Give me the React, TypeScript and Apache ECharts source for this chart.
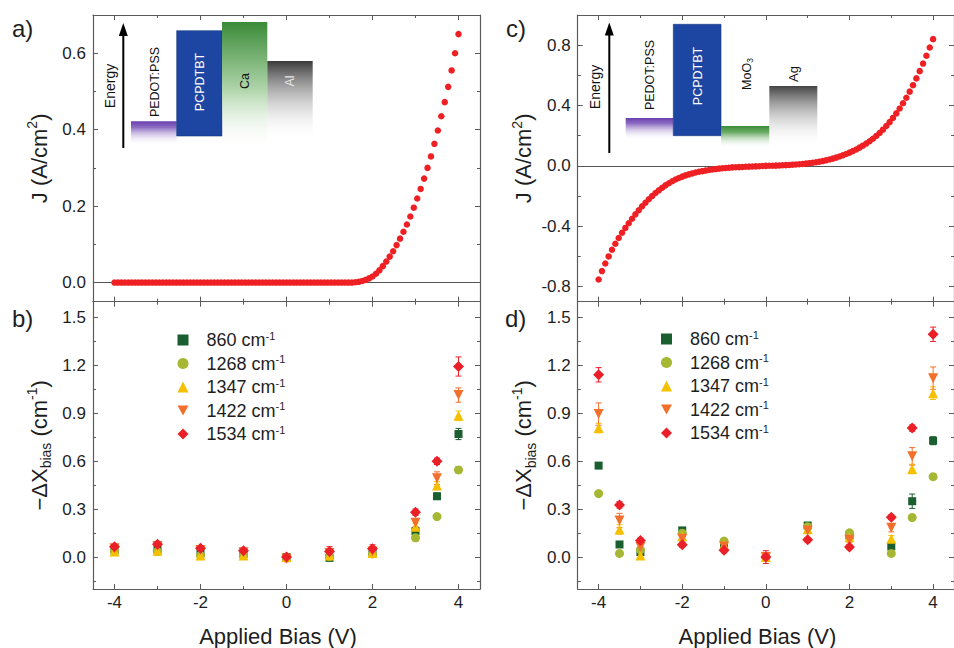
import React, { useEffect, useRef } from "react";
import * as echarts from "echarts";

const FONT = "'Liberation Sans', Arial, Helvetica, sans-serif";
const AXC = "#5a5a5a";
const TXT = "#1e1e1e";

// ---- tick values ----
const X_MAJOR = [-4, -2, 0, 2, 4];
const X_MINOR = [-3, -1, 1, 3];
const YA_MAJOR = [0, 0.2, 0.4, 0.6];
const YA_MINOR = [0.1, 0.3, 0.5];
const YC_MAJOR = [-0.8, -0.4, 0, 0.4, 0.8];
const YC_MINOR = [-0.6, -0.2, 0.2, 0.6];
const YB_MAJOR = [0, 0.3, 0.6, 0.9, 1.2, 1.5];
const YB_MINOR = [-0.15, 0.15, 0.45, 0.75, 1.05, 1.35];

// ---- J-V sweep (V) ----
const BIAS_JV = [
  -4, -3.92, -3.84, -3.76, -3.68, -3.6, -3.52, -3.44, -3.36, -3.28,
  -3.2, -3.12, -3.04, -2.96, -2.88, -2.8, -2.72, -2.64, -2.56, -2.48,
  -2.4, -2.32, -2.24, -2.16, -2.08, -2, -1.92, -1.84, -1.76, -1.68,
  -1.6, -1.52, -1.44, -1.36, -1.28, -1.2, -1.12, -1.04, -0.96, -0.88,
  -0.8, -0.72, -0.64, -0.56, -0.48, -0.4, -0.32, -0.24, -0.16, -0.08,
  0,
  0.08, 0.16, 0.24, 0.32, 0.4, 0.48, 0.56, 0.64, 0.72, 0.8,
  0.88, 0.96, 1.04, 1.12, 1.2, 1.28, 1.36, 1.44, 1.52, 1.6,
  1.68, 1.76, 1.84, 1.92, 2, 2.08, 2.16, 2.24, 2.32, 2.4,
  2.48, 2.56, 2.64, 2.72, 2.8, 2.88, 2.96, 3.04, 3.12, 3.2,
  3.28, 3.36, 3.44, 3.52, 3.6, 3.68, 3.76, 3.84, 3.92, 4,
];

// panel a) J (A/cm2), Ca/Al device
const J_A = [
  0, 0, 0, 0, 0, 0, 0, 0, 0, 0,
  0, 0, 0, 0, 0, 0, 0, 0, 0, 0,
  0, 0, 0, 0, 0, 0, 0, 0, 0, 0,
  0, 0, 0, 0, 0, 0, 0, 0, 0, 0,
  0, 0, 0, 0, 0, 0, 0, 0, 0, 0,
  0,
  0, 0, 0, 0, 0, 0, 0, 0, 0, 0,
  0, 0, 0, 0, 0, 0, 0, 0, 0, 0.001,
  0.002, 0.004, 0.007, 0.011, 0.016, 0.023, 0.032, 0.043, 0.055, 0.068,
  0.082, 0.098, 0.115, 0.133, 0.152, 0.173, 0.196, 0.22, 0.245, 0.272,
  0.3, 0.33, 0.363, 0.398, 0.435, 0.472, 0.512, 0.555, 0.6, 0.65,
];

// panel c) J (A/cm2), MoO3/Ag device
const J_C = [
  -0.753, -0.697, -0.647, -0.6, -0.556, -0.516, -0.478, -0.443, -0.411, -0.38,
  -0.35, -0.321, -0.294, -0.268, -0.244, -0.221, -0.2, -0.18, -0.162, -0.145,
  -0.129, -0.115, -0.102, -0.09, -0.08, -0.071, -0.063, -0.056, -0.05, -0.044,
  -0.039, -0.035, -0.031, -0.027, -0.024, -0.021, -0.018, -0.016, -0.014, -0.012,
  -0.01, -0.009, -0.008, -0.007, -0.006, -0.005, -0.004, -0.003, -0.002, -0.001,
  0,
  0.001, 0.001, 0.002, 0.003, 0.004, 0.005, 0.006, 0.008, 0.009, 0.011,
  0.013, 0.015, 0.018, 0.021, 0.024, 0.028, 0.032, 0.037, 0.042, 0.048,
  0.055, 0.062, 0.07, 0.079, 0.088, 0.098, 0.109, 0.121, 0.134, 0.148,
  0.163, 0.18, 0.198, 0.218, 0.24, 0.264, 0.29, 0.318, 0.348, 0.38,
  0.415, 0.452, 0.492, 0.535, 0.58, 0.628, 0.678, 0.73, 0.785, 0.84,
];

// ---- panel b) -dX_bias (cm-1) ----
const BIAS_B = [-4, -3, -2, -1, 0, 1, 2, 3, 3.5, 4];
const B_860 = [0.045, 0.05, 0.025, 0.02, 0.0, -0.005, 0.03, 0.163, 0.381, 0.771];
const B_1268 = [0.035, 0.035, 0.01, 0.01, 0.0, 0.005, 0.02, 0.121, 0.254, 0.546];
const B_1347 = [0.035, 0.04, 0.01, 0.01, 0.0, 0.01, 0.025, 0.19, 0.448, 0.885];
const B_1422 = [0.055, 0.07, 0.045, 0.03, -0.01, 0.025, 0.035, 0.215, 0.494, 1.015];
const B_1534 = [0.065, 0.08, 0.055, 0.04, 0.0, 0.035, 0.052, 0.281, 0.6, 1.194];
const EB_860 = [0.01, 0.01, 0.01, 0.01, 0.015, 0.01, 0.01, 0.02, 0.02, 0.035];
const EB_1268 = [0.01, 0.01, 0.01, 0.01, 0.01, 0.01, 0.01, 0.02, 0.015, 0.02];
const EB_1347 = [0.01, 0.01, 0.01, 0.01, 0.015, 0.01, 0.015, 0.02, 0.025, 0.03];
const EB_1422 = [0.015, 0.015, 0.015, 0.015, 0.02, 0.02, 0.02, 0.025, 0.04, 0.045];
const EB_1534 = [0.015, 0.015, 0.015, 0.015, 0.02, 0.03, 0.025, 0.02, 0.02, 0.06];

// ---- panel d) -dX_bias (cm-1) ----
const BIAS_D = [-4, -3.5, -3, -2, -1, 0, 1, 2, 3, 3.5, 4];
const D_860 = [0.573, 0.079, 0.031, 0.167, 0.079, 0.0, 0.198, 0.135, 0.067, 0.35, 0.729];
const D_1268 = [0.398, 0.023, 0.046, 0.15, 0.1, 0.0, 0.19, 0.152, 0.023, 0.248, 0.504];
const D_1347 = [0.808, 0.173, 0.01, 0.13, 0.077, 0.0, 0.175, 0.125, 0.115, 0.552, 1.027];
const D_1422 = [0.896, 0.229, 0.063, 0.115, 0.067, 0.0, 0.167, 0.108, 0.183, 0.631, 1.121];
const D_1534 = [1.142, 0.327, 0.104, 0.077, 0.042, 0.0, 0.108, 0.063, 0.25, 0.808, 1.396];
const ED_860 = [0.015, 0.01, 0.01, 0.01, 0.01, 0.015, 0.015, 0.01, 0.015, 0.045, 0.025];
const ED_1268 = [0.01, 0.01, 0.01, 0.01, 0.01, 0.015, 0.01, 0.01, 0.01, 0.015, 0.015];
const ED_1347 = [0.03, 0.03, 0.02, 0.015, 0.015, 0.02, 0.015, 0.015, 0.02, 0.03, 0.04];
const ED_1422 = [0.07, 0.045, 0.02, 0.02, 0.015, 0.02, 0.02, 0.015, 0.025, 0.055, 0.07];
const ED_1534 = [0.045, 0.02, 0.015, 0.015, 0.015, 0.04, 0.015, 0.015, 0.015, 0.02, 0.045];

const WAVENUMBERS = ["860", "1268", "1347", "1422", "1534"];
const COLORS = ["#1b5e2f", "#a5b733", "#f5c000", "#f2702c", "#ea1f27"];
const SYMBOLS = ["rect", "circle", "triangle", "path://M0,0L10,0L5,9Z", "diamond"];
const SIZES = [8, 9, 10, 10, 11];
const B_SETS = [B_860, B_1268, B_1347, B_1422, B_1534];
const EB_SETS = [EB_860, EB_1268, EB_1347, EB_1422, EB_1534];
const D_SETS = [D_860, D_1268, D_1347, D_1422, D_1534];
const ED_SETS = [ED_860, ED_1268, ED_1347, ED_1422, ED_1534];

const GRIDS = [
  { left: 93, top: 15, width: 387, height: 286.7 },
  { left: 93, top: 301.7, width: 387, height: 287.3 },
  { left: 577.7, top: 15, width: 387, height: 286.7 },
  { left: 577.7, top: 301.7, width: 387, height: 287.3 },
];

const tickStyle = { color: AXC, width: 1 };

function xAxesFor(g: number, labels: boolean) {
  const base = {
    type: "value",
    gridIndex: g,
    min: -4.5,
    max: 4.5,
    splitLine: { show: false },
    axisLine: { show: true, onZero: false, lineStyle: { color: AXC, width: 1.2 } },
  };
  const main: any = {
    ...base,
    position: "bottom",
    axisTick: { show: true, inside: true, length: 5, customValues: X_MAJOR, lineStyle: tickStyle },
    axisLabel: {
      show: labels,
      customValues: X_MAJOR,
      formatter: (v: number) => String(v),
      fontSize: 17,
      color: TXT,
      margin: 5,
      fontFamily: FONT,
    },
  };
  if (labels) {
    main.name = "Applied Bias (V)";
    main.nameLocation = "middle";
    main.nameGap = 36;
    main.nameTextStyle = { fontSize: 22, color: TXT, fontFamily: FONT, padding: [0, 17, 0, 0] };
  }
  return [
    main,
    {
      ...base,
      position: "top",
      axisTick: { show: true, inside: true, length: 5, customValues: X_MAJOR, lineStyle: tickStyle },
      axisLabel: { show: false },
    },
    {
      ...base,
      position: "bottom",
      axisLine: { show: false, onZero: false },
      axisTick: { show: true, inside: true, length: 3, customValues: X_MINOR, lineStyle: tickStyle },
      axisLabel: { show: false },
    },
    {
      ...base,
      position: "top",
      axisLine: { show: false, onZero: false },
      axisTick: { show: true, inside: true, length: 3, customValues: X_MINOR, lineStyle: tickStyle },
      axisLabel: { show: false },
    },
  ];
}

const J_NAME = "{n|J (A/cm}{sup|2}{n|)}";
const DX_NAME = "{n|\u2212\u0394X}{sub|bias}{n| (cm}{sup|-1}{n|)}";

function yAxesFor(g: number, min: number, max: number, major: number[], minor: number[], name: string) {
  const base = {
    type: "value",
    gridIndex: g,
    min,
    max,
    splitLine: { show: false },
    axisLine: { show: true, onZero: false, lineStyle: { color: AXC, width: 1.2 } },
  };
  return [
    {
      ...base,
      position: "left",
      axisTick: { show: true, inside: true, length: 5, customValues: major, lineStyle: tickStyle },
      axisLabel: {
        customValues: major,
        formatter: (v: number) => v.toFixed(1),
        fontSize: 17,
        color: TXT,
        margin: 7,
        fontFamily: FONT,
      },
      name,
      nameLocation: "middle",
      nameRotate: 90,
      nameGap: 40,
      nameTextStyle: {
        color: TXT,
        fontFamily: FONT,
        fontSize: 22,
        rich: {
          n: { fontSize: 22, lineHeight: 28, fontFamily: FONT, color: TXT },
          sup: { fontSize: 14, lineHeight: 14, verticalAlign: "top", fontFamily: FONT, color: TXT },
          sub: { fontSize: 14, lineHeight: 14, verticalAlign: "bottom", fontFamily: FONT, color: TXT },
        },
      },
    },
    {
      ...base,
      position: "right",
      axisTick: { show: true, inside: true, length: 5, customValues: major, lineStyle: tickStyle },
      axisLabel: { show: false },
    },
    {
      ...base,
      position: "left",
      axisLine: { show: false, onZero: false },
      axisTick: { show: true, inside: true, length: 3, customValues: minor, lineStyle: tickStyle },
      axisLabel: { show: false },
    },
    {
      ...base,
      position: "right",
      axisLine: { show: false, onZero: false },
      axisTick: { show: true, inside: true, length: 3, customValues: minor, lineStyle: tickStyle },
      axisLabel: { show: false },
    },
  ];
}

function errSeries(name: string, xs: number[], ys: number[], es: number[], color: string, ai: number) {
  return {
    type: "custom",
    name: name + " err",
    xAxisIndex: ai,
    yAxisIndex: ai,
    silent: true,
    z: 1,
    data: xs.map((x, i) => [x, ys[i] - es[i], ys[i] + es[i]]),
    encode: { x: 0, y: [1, 2] },
    renderItem: (_p: any, api: any) => {
      const x = api.value(0);
      const lo = api.coord([x, api.value(1)]);
      const hi = api.coord([x, api.value(2)]);
      const w = 3;
      const st = { stroke: color, lineWidth: 1 };
      return {
        type: "group",
        children: [
          { type: "line", shape: { x1: lo[0], y1: lo[1], x2: hi[0], y2: hi[1] }, style: st },
          { type: "line", shape: { x1: lo[0] - w, y1: lo[1], x2: lo[0] + w, y2: lo[1] }, style: st },
          { type: "line", shape: { x1: hi[0] - w, y1: hi[1], x2: hi[0] + w, y2: hi[1] }, style: st },
        ],
      };
    },
  };
}

function shiftSeries(xs: number[], sets: number[][], errs: number[][], ai: number) {
  const out: any[] = [];
  WAVENUMBERS.forEach((wn, k) => {
    out.push(errSeries(wn, xs, sets[k], errs[k], COLORS[k], ai));
  });
  WAVENUMBERS.forEach((wn, k) => {
    out.push({
      type: "scatter",
      name: wn,
      xAxisIndex: ai,
      yAxisIndex: ai,
      symbol: SYMBOLS[k],
      symbolSize: SIZES[k],
      z: 2 + k,
      itemStyle: { color: COLORS[k], opacity: 1 },
      data: xs.map((x, i) => [x, sets[k][i]]),
    });
  });
  return out;
}

function jvSeries(ys: number[], ai: number) {
  return {
    type: "scatter",
    name: "J",
    xAxisIndex: ai,
    yAxisIndex: ai,
    symbol: "circle",
    symbolSize: 6.5,
    z: 3,
    itemStyle: { color: "#ee2024", opacity: 1 },
    data: BIAS_JV.map((v, i) => [v, ys[i]]),
    markLine: {
      silent: true,
      symbol: ["none", "none"],
      label: { show: false },
      lineStyle: { color: "#555", width: 1, type: "solid" },
      data: [{ yAxis: 0 }],
      z: 1,
    },
  };
}

function legendFor(left: number, top: number) {
  return {
    data: WAVENUMBERS,
    orient: "vertical",
    left,
    top,
    padding: 0,
    itemWidth: 11,
    itemHeight: 11,
    itemGap: 4.5,
    selectedMode: false,
    formatter: (name: string) => `{n|${name} cm}{s|-1}`,
    textStyle: {
      color: TXT,
      fontFamily: FONT,
      fontSize: 18,
      padding: [0, 0, 0, 13],
      rich: {
        n: { fontSize: 18, lineHeight: 20, fontFamily: FONT, color: TXT },
        s: { fontSize: 11, lineHeight: 11, verticalAlign: "top", fontFamily: FONT, color: TXT },
      },
    },
  };
}

function grad(stops: [number, string][]) {
  return new echarts.graphic.LinearGradient(
    0, 0, 0, 1,
    stops.map(([offset, color]) => ({ offset, color }))
  );
}

function vtext(x: number, y: number, text: string, size: number, fill: string, rich?: any) {
  return {
    type: "text",
    x,
    y,
    rotation: Math.PI / 2,
    z: 20,
    style: {
      text,
      fill,
      fontSize: size,
      fontFamily: FONT,
      align: "center",
      verticalAlign: "middle",
      rich,
    },
  };
}

function arrow(x: number, yTop: number, yBot: number) {
  return [
    { type: "line", z: 20, shape: { x1: x, y1: yBot, x2: x, y2: yTop + 10 }, style: { stroke: "#000", lineWidth: 2 } },
    {
      type: "polygon",
      z: 20,
      shape: { points: [[x, yTop], [x - 4.5, yTop + 13], [x + 4.5, yTop + 13]] },
      style: { fill: "#000" },
    },
  ];
}

const PURPLE = grad([[0, "#6a3fae"], [0.25, "#8c6cc2"], [1, "rgba(255,255,255,0)"]]);
const PURPLE2 = grad([[0, "#6a3fae"], [0.25, "#8c6cc2"], [1, "rgba(255,255,255,0)"]]);
const GREEN_CA = grad([[0, "#3a8b38"], [0.55, "#b5d8b0"], [1, "rgba(255,255,255,0)"]]);
const GREEN_MO = grad([[0, "#3a8b38"], [0.3, "#6fae69"], [1, "rgba(255,255,255,0)"]]);
const GRAY_AL = grad([[0, "#3a3a3a"], [1, "rgba(255,255,255,0)"]]);
const GRAY_AG = grad([[0, "#444444"], [1, "rgba(255,255,255,0)"]]);

const GRAPHIC: any[] = [
  // panel letters
  { type: "text", x: 12, y: 28, style: { text: "a)", fontSize: 24, fontFamily: FONT, fill: TXT, verticalAlign: "middle" } },
  { type: "text", x: 12, y: 318, style: { text: "b)", fontSize: 24, fontFamily: FONT, fill: TXT, verticalAlign: "middle" } },
  { type: "text", x: 506, y: 28, style: { text: "c)", fontSize: 24, fontFamily: FONT, fill: TXT, verticalAlign: "middle" } },
  { type: "text", x: 505, y: 318, style: { text: "d)", fontSize: 24, fontFamily: FONT, fill: TXT, verticalAlign: "middle" } },
  // inset a
  ...arrow(123.3, 23, 148),
  vtext(110, 86, "Energy", 14, "#111"),
  { type: "rect", z: 19, shape: { x: 131, y: 121.3, width: 45.7, height: 24 }, style: { fill: PURPLE } },
  { type: "rect", z: 19, shape: { x: 176.7, y: 30.7, width: 45.3, height: 105.3 }, style: { fill: "#1d46a3", stroke: "#16357d", lineWidth: 0.6 } },
  { type: "rect", z: 19, shape: { x: 222, y: 22, width: 45.3, height: 128 }, style: { fill: GREEN_CA } },
  { type: "rect", z: 19, shape: { x: 267.3, y: 61, width: 45.4, height: 80 }, style: { fill: GRAY_AL } },
  vtext(155, 82, "PEDOT:PSS", 12.5, "#111"),
  vtext(200, 82, "PCPDTBT", 12.5, "#ffffff"),
  vtext(245, 81, "Ca", 12.5, "#111"),
  vtext(290, 81, "Al", 12.5, "#e6e6e6"),
  // inset c
  ...arrow(609.3, 22.5, 153),
  vtext(595, 87, "Energy", 14, "#111"),
  { type: "rect", z: 19, shape: { x: 625.7, y: 118, width: 47.6, height: 22 }, style: { fill: PURPLE2 } },
  { type: "rect", z: 19, shape: { x: 673.3, y: 24.3, width: 47.7, height: 111.4 }, style: { fill: "#1d46a3", stroke: "#16357d", lineWidth: 0.6 } },
  { type: "rect", z: 19, shape: { x: 721, y: 126, width: 48.3, height: 22 }, style: { fill: GREEN_MO } },
  { type: "rect", z: 19, shape: { x: 769.3, y: 86, width: 48, height: 61 }, style: { fill: GRAY_AG } },
  vtext(650, 75, "PEDOT:PSS", 12.5, "#111"),
  vtext(698, 76, "PCPDTBT", 12.5, "#ffffff"),
  vtext(746.5, 74, "{a|MoO}{b|3}", 12.5, "#111", {
    a: { fontSize: 12.5, lineHeight: 16, fontFamily: FONT, fill: "#111" },
    b: { fontSize: 8.5, lineHeight: 8, verticalAlign: "bottom", fontFamily: FONT, fill: "#111" },
  }),
  vtext(793, 74, "Ag", 13, "#111"),
];

export default function App() {
  const ref = useRef<HTMLDivElement>(null);
  useEffect(() => {
    if (!ref.current) return;
    const chart = echarts.init(ref.current, undefined, { renderer: "svg" });
    const option: any = {
      animation: false,
      backgroundColor: "#ffffff",
      textStyle: { fontFamily: FONT },
      grid: GRIDS,
      xAxis: [...xAxesFor(0, false), ...xAxesFor(1, true), ...xAxesFor(2, false), ...xAxesFor(3, true)],
      yAxis: [
        ...yAxesFor(0, -0.05, 0.7, YA_MAJOR, YA_MINOR, J_NAME),
        ...yAxesFor(1, -0.2, 1.6, YB_MAJOR, YB_MINOR, DX_NAME),
        ...yAxesFor(2, -0.9, 1.0, YC_MAJOR, YC_MINOR, J_NAME),
        ...yAxesFor(3, -0.2, 1.6, YB_MAJOR, YB_MINOR, DX_NAME),
      ],
      legend: [legendFor(177.5, 330), legendFor(661, 329)],
      series: [
        jvSeries(J_A, 0),
        ...shiftSeries(BIAS_B, B_SETS, EB_SETS, 4),
        jvSeries(J_C, 8),
        ...shiftSeries(BIAS_D, D_SETS, ED_SETS, 12),
      ],
      graphic: GRAPHIC,
    };
    chart.setOption(option);
    return () => chart.dispose();
  }, []);
  return (
    <div
      ref={ref}
      style={{ position: "fixed", left: 0, top: 0, width: 954, height: 648, background: "#fff" }}
    />
  );
}
